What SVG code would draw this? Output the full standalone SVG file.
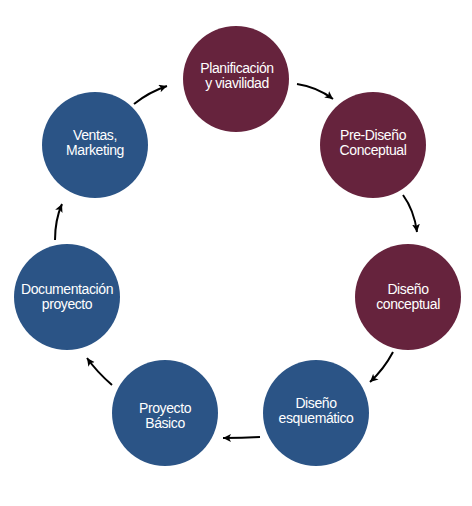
<svg xmlns="http://www.w3.org/2000/svg" width="472" height="506" viewBox="0 0 472 506">
<style>
.red{fill:#66233D}
.blue{fill:#2B5486}
.lbl{font-family:"Liberation Sans",Arial,sans-serif;font-size:14px;fill:#ffffff;text-anchor:middle;letter-spacing:-0.4px}
.con{fill:none;stroke:#000;stroke-width:2;marker-end:url(#ah)}
</style>
<defs>
<marker id="ah" markerUnits="userSpaceOnUse" markerWidth="10" markerHeight="10" refX="8" refY="4" orient="auto">
<path d="M0,0 L8,4 L0,8 L2,4 z" fill="#000"/>
</marker>
</defs>
<rect width="472" height="506" fill="#fff"/>
<g id="connectors">
<path class="con" d="M297,84 Q317,87 333,99"/>
<path class="con" d="M403,195 Q414,210 417,232"/>
<path class="con" d="M393,352 Q384,369 370,382"/>
<path class="con" d="M260,437 Q242,438 223,438"/>
<path class="con" d="M112,385 Q97,372 87,358"/>
<path class="con" d="M55,240 Q55,220 62,204"/>
<path class="con" d="M134,104 Q149,92 167,86"/>
</g>
<g id="n1"><circle class="red" cx="236" cy="79" r="53"/><text class="lbl" x="237" y="73">Planificación</text><text class="lbl" x="237" y="88">y viavilidad</text></g>
<g id="n2"><circle class="red" cx="373" cy="145" r="53"/><text class="lbl" x="373" y="140">Pre-Diseño</text><text class="lbl" x="373" y="155">Conceptual</text></g>
<g id="n3"><circle class="red" cx="408" cy="297" r="53"/><text class="lbl" x="408" y="294">Diseño</text><text class="lbl" x="408" y="309">conceptual</text></g>
<g id="n4"><circle class="blue" cx="316" cy="413" r="53"/><text class="lbl" x="316" y="408">Diseño</text><text class="lbl" x="316" y="423">esquemático</text></g>
<g id="n5"><circle class="blue" cx="165" cy="413" r="53"/><text class="lbl" x="165" y="413">Proyecto</text><text class="lbl" x="165" y="428">Básico</text></g>
<g id="n6"><circle class="blue" cx="67" cy="297" r="53"/><text class="lbl" x="67" y="294">Documentación</text><text class="lbl" x="67" y="309">proyecto</text></g>
<g id="n7"><circle class="blue" cx="95" cy="145" r="53"/><text class="lbl" x="95" y="140">Ventas,</text><text class="lbl" x="95" y="155">Marketing</text></g>
</svg>
